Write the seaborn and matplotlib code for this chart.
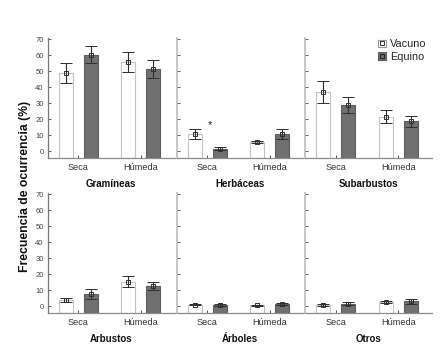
import numpy as np
import pandas as pd
import matplotlib
matplotlib.use('Agg')
import matplotlib.pyplot as plt
from matplotlib.patches import Patch
from matplotlib.lines import Line2D
import seaborn as sns

# Datos: frecuencia de ocurrencia (%) por grupo, estación y herbívoro
grupos = ['Gramíneas', 'Herbáceas', 'Subarbustos', 'Arbustos', 'Árboles', 'Otros']
estaciones = ['Seca', 'Húmeda']
herbivoros = ['Vacuno', 'Equino']

vacuno_seca = [49.0, 10.7, 37.0, 4.0, 1.0, 0.8]
vacuno_humeda = [56.0, 6.0, 21.7, 15.5, 0.6, 2.4]
equino_seca = [60.5, 1.7, 28.8, 7.7, 0.6, 1.7]
equino_humeda = [51.5, 11.0, 18.8, 12.5, 1.4, 3.0]

err_vacuno_seca = [6.0, 3.2, 6.8, 1.4, 0.5, 0.5]
err_vacuno_humeda = [6.2, 0.8, 4.2, 3.7, 0.5, 0.6]
err_equino_seca = [5.2, 0.8, 5.0, 3.0, 0.6, 0.8]
err_equino_humeda = [5.7, 3.2, 3.4, 2.5, 0.6, 1.3]

# tabla larga para seaborn
filas = []
for i, g in enumerate(grupos):
    filas.append((g, 'Seca', 'Vacuno', vacuno_seca[i], err_vacuno_seca[i]))
    filas.append((g, 'Húmeda', 'Vacuno', vacuno_humeda[i], err_vacuno_humeda[i]))
    filas.append((g, 'Seca', 'Equino', equino_seca[i], err_equino_seca[i]))
    filas.append((g, 'Húmeda', 'Equino', equino_humeda[i], err_equino_humeda[i]))
df = pd.DataFrame(filas, columns=['grupo', 'estacion', 'herbivoro', 'media', 'error'])

sns.set_theme(style='white')
plt.rcParams['font.family'] = ['Liberation Sans', 'DejaVu Sans']

colores = {'Vacuno': 'white', 'Equino': '#707070'}
bordes = {'Vacuno': '#c4c4c4', 'Equino': '#5e5e5e'}
y_min, y_max = -4, 71.1

fig, axes = plt.subplots(2, 3, figsize=(4.43, 3.59), dpi=100, sharey=True)
fig.subplots_adjust(left=0.108, right=0.975, top=0.895, bottom=0.129,
                    wspace=0.016, hspace=0.29)

for k, (ax, g) in enumerate(zip(axes.flat, grupos)):
    sub = df[df['grupo'] == g]
    sns.barplot(data=sub, x='estacion', y='media', hue='herbivoro',
                order=estaciones, hue_order=herbivoros, palette=colores,
                width=0.8, gap=0.44, errorbar=None, legend=False, ax=ax,
                linewidth=0.8, edgecolor='#888888')

    # barras ordenadas por posición: V-Seca, E-Seca, V-Húmeda, E-Húmeda
    barras = sorted(ax.patches, key=lambda p: p.get_x())
    orden = [('Seca', 'Vacuno'), ('Seca', 'Equino'), ('Húmeda', 'Vacuno'), ('Húmeda', 'Equino')]
    for p, (est, h) in zip(barras, orden):
        fila = sub[(sub['estacion'] == est) & (sub['herbivoro'] == h)].iloc[0]
        xc = p.get_x() + p.get_width() / 2
        p.set_edgecolor(bordes[h])
        # las barras arrancan desde el borde inferior del eje
        p.set_height(p.get_height() - y_min)
        p.set_y(y_min)
        ax.errorbar(xc, fila['media'], yerr=fila['error'], fmt='s', color='#2e2e2e',
                    ecolor='#2e2e2e', elinewidth=0.8, capsize=4.6, capthick=0.8,
                    markersize=3.2, markerfacecolor='none', markeredgewidth=0.7, zorder=5)

    ax.set_xlim(-0.49, 1.54)
    ax.set_ylim(y_min, y_max)
    ax.set_yticks(range(0, 71, 10))
    ax.set_xlabel(g, fontsize=7, fontweight='bold', labelpad=5, color='#111111')
    ax.set_ylabel('')
    ax.tick_params(axis='x', direction='in', length=2, width=0.6, labelsize=6.6,
                   colors='#333333', pad=4, bottom=True)
    ax.tick_params(axis='y', direction='in', length=2, width=0.6, labelsize=5.5,
                   colors='#444444', pad=3, left=True)
    for lado in ['top', 'right']:
        ax.spines[lado].set_visible(False)
    ax.spines['bottom'].set_color('#8c8c8c')
    ax.spines['bottom'].set_linewidth(0.9)
    ax.spines['left'].set_color('#777777' if k % 3 == 0 else '#c0c0c0')
    ax.spines['left'].set_linewidth(0.9 if k % 3 == 0 else 1.3)

# asterisco en Herbáceas (estación seca)
axes[0, 1].text(0.05, 16.5, '*', fontsize=8, ha='center', va='center', color='#222222')

# leyenda
manejadores = [
    (Patch(facecolor='white', edgecolor='#9a9a9a', linewidth=0.8),
     Line2D([], [], marker='s', linestyle='none', markersize=3, markerfacecolor='none',
            markeredgecolor='#333333', markeredgewidth=0.7)),
    (Patch(facecolor='#707070', edgecolor='#5e5e5e', linewidth=0.8),
     Line2D([], [], marker='s', linestyle='none', markersize=3, markerfacecolor='none',
            markeredgecolor='#222222', markeredgewidth=0.7)),
]
axes[0, 2].legend(manejadores, herbivoros, loc='upper right', bbox_to_anchor=(1.02, 1.05),
                  frameon=False, fontsize=7.8, handlelength=0.75, handleheight=0.75,
                  handletextpad=0.4, labelspacing=0.25, borderpad=0.2)

fig.text(0.056, 0.482, 'Frecuencia de ocurrencia (%)', rotation=90, fontsize=8.8,
         fontweight='bold', ha='center', va='center', color='#111111')

fig.savefig('out.png', dpi=100)
